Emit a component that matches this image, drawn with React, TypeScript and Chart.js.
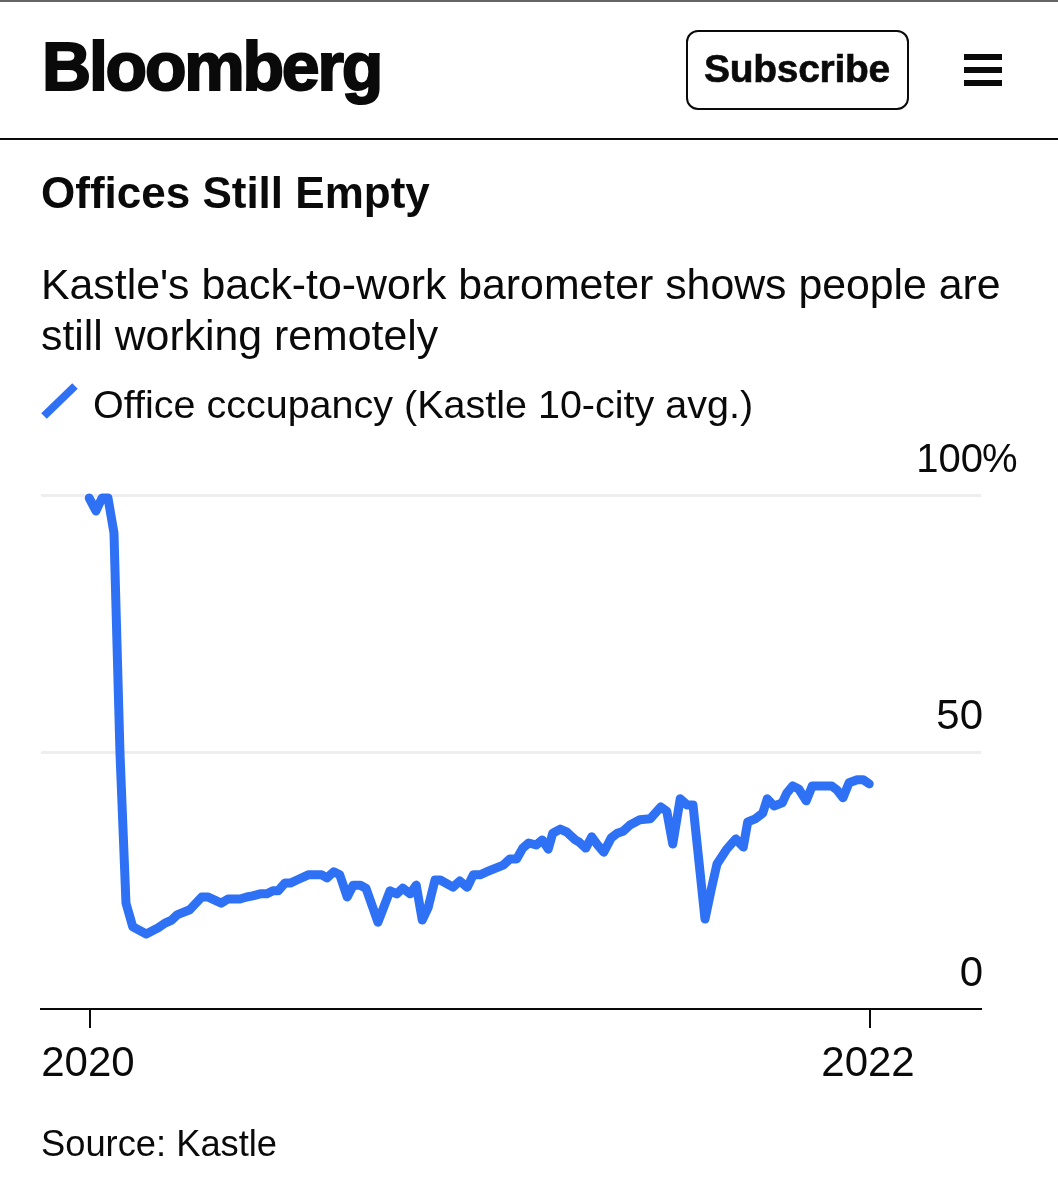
import React, { useEffect, useRef } from "react";
import { Chart, registerables } from "chart.js";

Chart.register(...registerables);

const chartTitle = "Offices Still Empty";
const subtitleLines = ["Kastle's back-to-work barometer shows people are", "still working remotely"];
const seriesName = "Office cccupancy (Kastle 10-city avg.)";
const sourceText = "Source: Kastle";
const yTicks = [0, 50, 100];
const xTickWeeks = [0, 104];
const xTickLabels = ["2020", "2022"];

// weeks since the start of 2020
const weeks = [
  -0.1, 0.8, 1.6, 2.4, 3.2, 4.0, 4.8, 5.7, 7.5, 9.1, 10.0, 10.9, 11.6, 13.3, 14.9, 15.7, 17.5, 18.4, 20.0, 20.9,
  21.7, 22.7, 23.6, 24.4, 25.1, 26.0, 26.7, 27.6, 29.1, 30.9, 31.6, 32.5, 33.3, 34.3, 35.1, 36.0, 36.8, 38.4, 40.0,
  40.9, 41.7, 42.7, 43.5, 44.3, 45.1, 46.0, 46.7, 48.4, 49.3, 50.3, 51.1, 52.0, 53.1, 55.1, 56.0, 56.9, 57.7, 58.5,
  59.5, 60.3, 61.1, 61.7, 62.7, 63.6, 64.7, 65.2, 66.1, 66.9, 67.7, 68.5, 69.5, 70.3, 71.1, 72.0, 73.3, 74.7, 76.1,
  76.9, 77.7, 78.7, 79.6, 80.4, 82.0, 82.9, 83.6, 84.9, 86.1, 87.1, 87.7, 88.7, 89.7, 90.3, 91.2, 92.3, 92.9, 93.7,
  94.5, 95.5, 96.3, 98.9, 99.6, 100.4, 101.2, 102.3, 103.1, 103.9,
];

const occupancy = [
  99.4, 96.9, 99.4, 99.4, 92.6, 49.8, 20.6, 16.0, 14.6, 15.8, 16.7, 17.3, 18.3, 19.3, 21.8, 21.8, 20.6, 21.4, 21.4, 21.8,
  22.0, 22.4, 22.4, 23.0, 23.0, 24.5, 24.5, 25.1, 26.1, 26.1, 25.5, 26.7, 26.1, 21.8, 24.1, 24.1, 23.5, 16.9, 23.0,
  22.4, 23.5, 22.4, 24.1, 17.3, 19.8, 25.1, 25.1, 23.7, 24.9, 23.7, 26.1, 26.1, 26.8, 28.0, 29.2, 29.2, 31.3, 32.3,
  31.9, 32.9, 31.1, 34.2, 35.0, 34.4, 32.9, 32.5, 31.3, 33.5, 31.9, 30.5, 33.3, 34.2, 34.6, 35.8, 36.8, 37.0, 39.3,
  38.5, 32.1, 40.9, 39.7, 39.7, 17.5, 23.7, 28.2, 31.1, 33.1, 31.5, 36.4, 37.0, 38.1, 40.9, 39.5, 40.1, 42.0, 43.4,
  42.8, 40.5, 43.4, 43.4, 42.6, 41.1, 44.0, 44.6, 44.6, 43.8,
];

const BLUE = "#2f71f5";
const INK = "#0a0a0a";
const FONT = '"Liberation Sans", Arial, sans-serif';

const yLabelPlugin = {
  id: "yLabels",
  afterDraw(chart: any) {
    const { ctx, scales } = chart;
    const y = scales.y;
    ctx.save();
    ctx.fillStyle = INK;
    ctx.textBaseline = "alphabetic";
    y.ticks.forEach((t: any) => {
      const py = y.getPixelForValue(t.value) - 23;
      ctx.font = `${t.value === 100 ? 40 : 42}px ${FONT}`;
      ctx.textAlign = "right";
      ctx.fillText(String(t.value), 983, py);
      if (t.value === 100) {
        ctx.textAlign = "left";
        ctx.fillText("%", 982, py);
      }
    });
    ctx.restore();
  },
};

const abs = (left: number, top: number, extra: React.CSSProperties = {}): React.CSSProperties => ({
  position: "absolute",
  left,
  top,
  whiteSpace: "nowrap",
  fontFamily: FONT,
  color: INK,
  ...extra,
});

export default function App() {
  const ref = useRef<HTMLCanvasElement>(null);

  useEffect(() => {
    const chart = new Chart(ref.current!, {
      type: "line",
      data: {
        datasets: [
          {
            label: seriesName,
            data: weeks.map((w, i) => ({ x: w, y: occupancy[i] })),
            borderColor: BLUE,
            borderWidth: 9,
            pointRadius: 0,
            tension: 0,
            borderCapStyle: "round",
            borderJoinStyle: "round",
            clip: false,
          },
        ],
      },
      plugins: [yLabelPlugin],
      options: {
        animation: false,
        responsive: false,
        devicePixelRatio: 1,
        layout: { padding: { left: 41, right: 77, top: 495, bottom: 0 } },
        plugins: { legend: { display: false }, title: { display: false }, tooltip: { enabled: false } },
        scales: {
          x: {
            type: "linear",
            min: -6.53,
            max: 118.8,
            afterBuildTicks: (axis: any) => {
              axis.ticks = xTickWeeks.map((value) => ({ value }));
            },
            afterFit: (axis: any) => {
              axis.height = 191;
            },
            border: { color: INK, width: 2 },
            grid: { drawOnChartArea: false, drawTicks: true, tickLength: 19, color: INK, lineWidth: 2 },
            ticks: {
              autoSkip: false,
              maxRotation: 0,
              padding: 11,
              labelOffset: -2,
              color: INK,
              font: { family: FONT, size: 42 },
              callback: (v: any) => xTickLabels[xTickWeeks.indexOf(Number(v))] ?? "",
            },
          },
          y: {
            position: "right",
            min: 0,
            max: 100,
            afterBuildTicks: (axis: any) => {
              axis.ticks = yTicks.map((value) => ({ value }));
            },
            afterFit: (axis: any) => {
              axis.width = 0;
            },
            border: { display: false },
            grid: {
              drawTicks: false,
              lineWidth: 3,
              color: (c: any) => (c.tick && c.tick.value === 0 ? "rgba(0,0,0,0)" : "#eeeeee"),
            },
            ticks: { display: false },
          },
        },
      },
    } as any);
    return () => chart.destroy();
  }, []);

  const bar = (top: number) => (
    <div style={{ position: "absolute", left: 964, top, width: 38, height: 6, background: INK }} />
  );

  return (
    <div style={{ position: "absolute", left: 0, top: 0, width: 1058, height: 1200, background: "#fff", overflow: "hidden" }}>
      <canvas ref={ref} width={1058} height={1200} style={{ position: "absolute", left: 0, top: 0, display: "block" }} />
      <div style={{ position: "absolute", left: 0, top: 0, width: 1058, height: 2, background: "#666" }} />
      <div style={abs(42, 26, { fontSize: 68, lineHeight: "80px", fontWeight: 700, letterSpacing: -2.2, WebkitTextStroke: "2px #0a0a0a" })}>Bloomberg</div>
      <div
        style={{
          position: "absolute",
          left: 686,
          top: 30,
          width: 219,
          height: 76,
          border: "2.5px solid #0a0a0a",
          borderRadius: 12,
        }}
      />
      <div style={abs(704, 46, { fontSize: 39, lineHeight: "46px", fontWeight: 700, letterSpacing: -0.3, WebkitTextStroke: "0.6px #0a0a0a" })}>Subscribe</div>
      {bar(54)}
      {bar(67)}
      {bar(80)}
      <div style={{ position: "absolute", left: 0, top: 138, width: 1058, height: 2, background: INK }} />
      <div style={abs(41, 168, { fontSize: 44, lineHeight: "50px", fontWeight: 700 })}>{chartTitle}</div>
      <div style={abs(41, 259, { fontSize: 42.8, lineHeight: "51px" })}>
        {subtitleLines.map((l) => (
          <div key={l}>{l}</div>
        ))}
      </div>
      <svg width={40} height={40} style={{ position: "absolute", left: 40, top: 382 }}>
        <line x1={4} y1={34} x2={35} y2={4} stroke={BLUE} strokeWidth={8} />
      </svg>
      <div style={abs(93, 381, { fontSize: 39.5, lineHeight: "46px" })}>{seriesName}</div>
      <div style={abs(41, 1123, { fontSize: 36.3, lineHeight: "42px" })}>{sourceText}</div>
    </div>
  );
}
